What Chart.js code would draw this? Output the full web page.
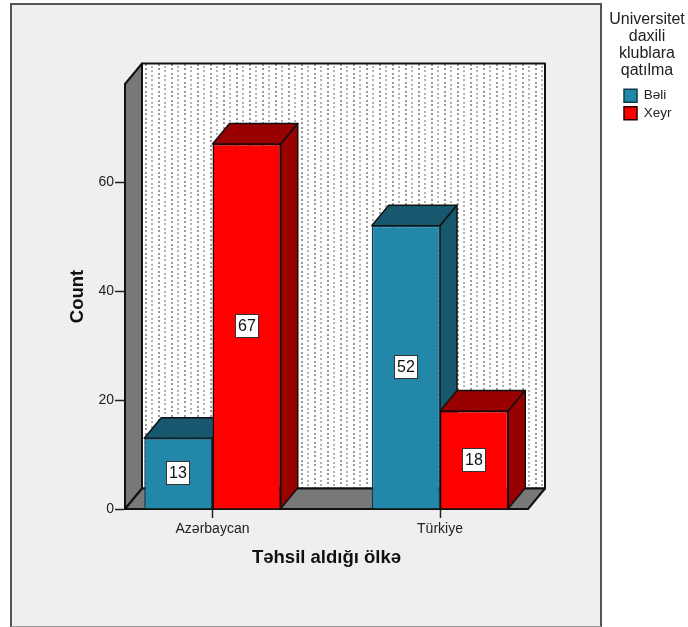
<!DOCTYPE html>
<html>
<head>
<meta charset="utf-8">
<title>Təhsil aldığı ölkə</title>
<script src="https://cdn.jsdelivr.net/npm/chart.js@4"></script>
<style>
    html, body { margin: 0; padding: 0; background: #fff; }
    #wrap { width: 688px; height: 627px; position: relative; overflow: hidden; }
</style>
</head>
<body>
<div id="wrap"><canvas id="clubChart" width="688" height="627"></canvas></div>
<script>
    "use strict";

    const countries = ['Azərbaycan', 'Türkiye'];
    const beliValues = [13, 52];
    const xeyrValues = [67, 18];
    const seriesNames = ['Bəli', 'Xeyr'];
    const yTicks = [0, 20, 40, 60];
    const legendTitle = ['Universitet', 'daxili', 'klublara', 'qatılma'];

    // depth of the fake 3d box, in pixels
    const depthX = 17;
    const depthY = -20.5;

    const sideColors = ['#17586e', '#990000'];
    const fontFamily = '"Liberation Sans", Arial, sans-serif';

    function quad(ctx, pts, fill) {
        ctx.beginPath();
        ctx.moveTo(pts[0][0], pts[0][1]);
        for (let i = 1; i < pts.length; i++) ctx.lineTo(pts[i][0], pts[i][1]);
        ctx.closePath();
        ctx.fillStyle = fill;
        ctx.fill();
        ctx.stroke();
    }

    // small repeating tile for the dotted back wall
    function dotPattern(ctx) {
        const tile = document.createElement('canvas');
        tile.width = 13;
        tile.height = 9;
        const t = tile.getContext('2d');
        t.fillStyle = '#fff';
        t.fillRect(0, 0, 13, 9);
        t.fillStyle = '#9a9a9a';
        t.fillRect(2, 1, 2, 2);
        t.fillRect(2, 5, 2, 2);
        t.fillStyle = '#b4b4b4';
        t.fillRect(8, 3, 2, 2);
        t.fillRect(8, 7, 2, 2);
        return ctx.createPattern(tile, 'repeat');
    }

    const boxPlugin = {
        id: 'box3d',
        // the legend is placed by hand in the right hand margin
        afterLayout(chart) {
            const legend = chart.legend;
            legend.left = 620;
            legend.right = 688;
            legend.top = 85;
            legend.bottom = 130;
            legend.width = 68;
            legend.height = 45;
        },
        beforeDraw(chart) {
            const ctx = chart.ctx;
            ctx.save();
            // grey panel
            ctx.fillStyle = '#efefef';
            ctx.fillRect(11, 4, 590, 622);
            ctx.strokeStyle = '#555';
            ctx.lineWidth = 2;
            ctx.beginPath();
            ctx.moveTo(11, 627);
            ctx.lineTo(11, 4);
            ctx.lineTo(601, 4);
            ctx.lineTo(601, 627);
            ctx.stroke();
            ctx.strokeStyle = '#999';
            ctx.lineWidth = 1;
            ctx.beginPath();
            ctx.moveTo(11, 626.5);
            ctx.lineTo(601, 626.5);
            ctx.stroke();

            // walls and floor
            const a = chart.chartArea;
            ctx.strokeStyle = '#111';
            ctx.lineWidth = 2;
            ctx.lineJoin = 'round';
            const bl = a.left + depthX, br = a.right + depthX;
            const bt = a.top + depthY, bb = a.bottom + depthY;
            quad(ctx, [[bl, bt], [br, bt], [br, bb], [bl, bb]], dotPattern(ctx));
            quad(ctx, [[a.left, a.top], [bl, bt], [bl, bb], [a.left, a.bottom]], '#787878');
            quad(ctx, [[a.left, a.bottom], [bl, bb], [br, bb], [a.right, a.bottom]], '#787878');

            // heading above the legend entries
            ctx.fillStyle = '#222';
            ctx.font = '16px ' + fontFamily;
            ctx.textAlign = 'center';
            ctx.textBaseline = 'middle';
            legendTitle.forEach((line, i) => ctx.fillText(line, 647, 20 + i * 17));
            ctx.restore();
        },
        // top and side faces go under the front faces
        beforeDatasetsDraw(chart) {
            const ctx = chart.ctx;
            ctx.save();
            ctx.lineWidth = 1.5;
            ctx.strokeStyle = '#111';
            ctx.lineJoin = 'round';
            for (let i = 0; i < countries.length; i++) {
                chart.data.datasets.forEach((ds, d) => {
                    const bar = chart.getDatasetMeta(d).data[i];
                    const l = bar.x - bar.width / 2, r = bar.x + bar.width / 2;
                    quad(ctx, [[l, bar.y], [l + depthX, bar.y + depthY], [r + depthX, bar.y + depthY], [r, bar.y]], sideColors[d]);
                    quad(ctx, [[r, bar.y], [r + depthX, bar.y + depthY], [r + depthX, bar.base + depthY], [r, bar.base]], sideColors[d]);
                });
            }
            ctx.restore();
        },
        // value boxes in the middle of each bar
        afterDatasetsDraw(chart) {
            const ctx = chart.ctx;
            ctx.save();
            ctx.font = '16px ' + fontFamily;
            ctx.textAlign = 'center';
            ctx.textBaseline = 'middle';
            chart.data.datasets.forEach((ds, d) => {
                chart.getDatasetMeta(d).data.forEach((bar, i) => {
                    const cx = Math.round(bar.x), cy = Math.round((bar.y + bar.base) / 2);
                    ctx.fillStyle = '#fff';
                    ctx.strokeStyle = '#333';
                    ctx.lineWidth = 1;
                    ctx.fillRect(cx - 12, cy - 12, 24, 24);
                    ctx.strokeRect(cx - 11.5, cy - 11.5, 23, 23);
                    ctx.fillStyle = '#111';
                    ctx.fillText(ds.data[i].y, cx, cy + 1);
                });
            });
            ctx.restore();
        }
    };

    function toPoints(values) {
        return values.map((v, i) => ({ x: i, y: v }));
    }

    new Chart(document.getElementById('clubChart'), {
        type: 'bar',
        data: {
            datasets: [{
                label: seriesNames[0],
                data: toPoints(beliValues),
                backgroundColor: '#2387aa',
                borderColor: '#0e3c4e',
                borderWidth: 1.5
            }, {
                label: seriesNames[1],
                data: toPoints(xeyrValues),
                backgroundColor: '#ff0000',
                borderColor: '#2a0000',
                borderWidth: 1.5
            }]
        },
        plugins: [boxPlugin],
        options: {
            responsive: false,
            animation: false,
            layout: { padding: { left: 67, right: 160, top: 84, bottom: 58 } },
            datasets: { bar: { barPercentage: 1, categoryPercentage: 0.6 } },
            plugins: {
                tooltip: { enabled: false },
                legend: {
                    position: 'chartArea',
                    align: 'start',
                    labels: {
                        boxWidth: 13,
                        boxHeight: 13,
                        padding: 4,
                        color: '#222',
                        font: { family: fontFamily, size: 13.5 }
                    }
                }
            },
            scales: {
                x: {
                    type: 'linear',
                    min: -0.3846,
                    max: 1.3868,
                    offset: false,
                    afterBuildTicks(scale) {
                        scale.ticks = countries.map((c, i) => ({ value: i }));
                    },
                    afterFit(scale) { scale.height = 60; },
                    grid: { offset: false, drawOnChartArea: false, tickLength: 9, tickColor: '#222', tickWidth: 1.5 },
                    border: { color: '#111', width: 2 },
                    ticks: {
                        callback: (v) => countries[v],
                        autoSkip: false,
                        maxRotation: 0,
                        padding: 3,
                        color: '#222',
                        font: { family: fontFamily, size: 14 }
                    },
                    title: {
                        display: true,
                        text: 'Təhsil aldığı ölkə',
                        color: '#111',
                        padding: { top: 0, bottom: 0 },
                        font: { family: fontFamily, size: 18.5, weight: 'bold' }
                    }
                },
                y: {
                    min: 0,
                    max: 78,
                    afterBuildTicks(scale) {
                        scale.ticks = yTicks.map((v) => ({ value: v }));
                    },
                    afterFit(scale) { scale.width = 58; },
                    grid: { drawOnChartArea: false, tickLength: 10, tickColor: '#222', tickWidth: 1.5 },
                    border: { color: '#111', width: 2 },
                    ticks: {
                        padding: 1,
                        color: '#222',
                        font: { family: fontFamily, size: 14 }
                    },
                    title: {
                        display: true,
                        text: 'Count',
                        color: '#111',
                        padding: { top: 0, bottom: 0 },
                        font: { family: fontFamily, size: 18.5, weight: 'bold' }
                    }
                }
            }
        }
    });
</script>
</body>
</html>
